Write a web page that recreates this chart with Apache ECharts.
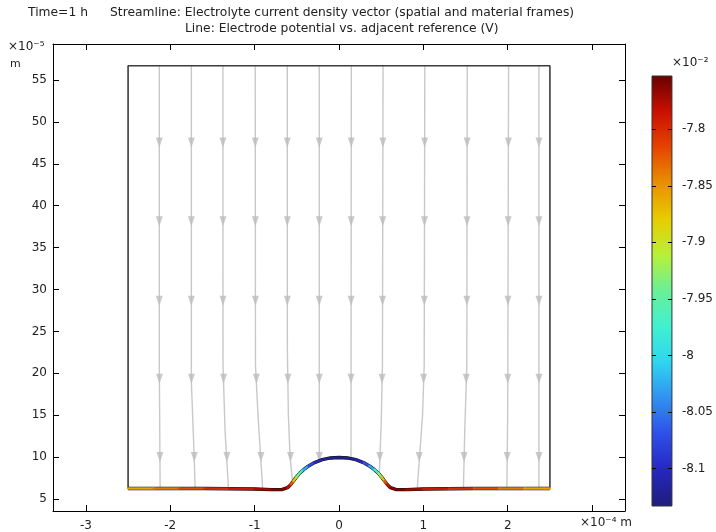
<!DOCTYPE html>
<html>
<head>
<meta charset="utf-8">
<script src="https://cdn.jsdelivr.net/npm/echarts@6/dist/echarts.min.js"></script>
<style>
  html, body { margin: 0; padding: 0; background: #fff; }
  #chart { width: 716px; height: 532px; }
</style>
</head>
<body>
<div id="chart"></div>
<script>
// axis ticks
var xTicks = [-3, -2, -1, 0, 1, 2, 3];
var xLabels = [-3, -2, -1, 0, 1, 2];
var yTicks = [5, 10, 15, 20, 25, 30, 35, 40, 45, 50, 55];
var cbTicks = [-8.1, -8.05, -8, -7.95, -7.9, -7.85, -7.8];

// domain box (x in 1e-4 m, y in 1e-5 m)
var boxX = [-2.5, -2.5, 2.5, 2.5];
var boxY = [6.25, 56.7, 56.7, 6.25];

// streamlines
var stream1 = [[-2.13, 56.7], [-2.13, 21], [-2.12, 6.25]];
var stream2 = [[-1.75, 56.7], [-1.75, 19], [-1.72, 11], [-1.705, 6.25]];
var stream3 = [[-1.376, 56.7], [-1.375, 21], [-1.35, 13], [-1.31, 6.25]];
var stream4 = [[-0.993, 56.7], [-0.99, 21], [-0.96, 15], [-0.905, 6.2]];
var stream5 = [[-0.613, 56.7], [-0.612, 23], [-0.6, 15], [-0.58, 10], [-0.55, 7.0]];
var stream6 = [[-0.234, 56.7], [-0.234, 9.45]];
var stream7 = [[0.146, 56.7], [0.142, 9.9]];
var stream8 = [[0.522, 56.7], [0.515, 21], [0.5, 14], [0.478, 7.97]];
var stream9 = [[1.017, 56.7], [1.01, 21], [0.99, 15], [0.928, 6.25]];
var stream10 = [[1.52, 56.7], [1.515, 21], [1.49, 13], [1.475, 6.25]];
var stream11 = [[2.01, 56.7], [2.0, 16], [1.99, 6.25]];
var stream12 = [[2.37, 56.7], [2.37, 6.25]];
var streams = [stream1, stream2, stream3, stream4, stream5, stream6,
               stream7, stream8, stream9, stream10, stream11, stream12];
// arrow tip heights
var arrowY = [47.0, 37.6, 28.1, 18.8, 9.45];

// electrode line: x, y, potential (1e-2 V)
var elecX = [-2.5, -2.2, -1.9, -1.6, -1.3, -1.0, -0.8, -0.68, -0.61, -0.57, -0.54, -0.51, -0.47, -0.42, -0.36, -0.29, -0.2, -0.1, 0,
             0.1, 0.2, 0.29, 0.36, 0.42, 0.47, 0.51, 0.54, 0.57, 0.61, 0.68, 0.8, 1.0, 1.3, 1.6, 1.9, 2.2, 2.5];
var elecY = [6.25, 6.25, 6.25, 6.25, 6.23, 6.2, 6.12, 6.12, 6.35, 6.75, 7.15, 7.55, 8.05, 8.5, 8.95, 9.35, 9.7, 9.9, 9.95,
             9.9, 9.7, 9.35, 8.95, 8.5, 8.05, 7.55, 7.15, 6.75, 6.35, 6.12, 6.12, 6.2, 6.23, 6.25, 6.25, 6.25, 6.25];
var elecV = [-7.868, -7.85, -7.83, -7.81, -7.795, -7.78, -7.765, -7.758, -7.765, -7.8, -7.85, -7.9, -7.95, -8.0, -8.05, -8.09, -8.115, -8.125, -8.13,
             -8.125, -8.115, -8.09, -8.05, -8.0, -7.95, -7.9, -7.85, -7.8, -7.765, -7.758, -7.765, -7.78, -7.795, -7.81, -7.83, -7.85, -7.868];

var vMin = -8.133, vMax = -7.753;
var rainbow = ['#1e1e78', '#2626c0', '#2e4ee8', '#3090f0', '#30d4f0', '#40f0d0', '#68f098',
               '#b8f038', '#e8cc00', '#e89000', '#e64400', '#c81000', '#680000'];

var font = 'DejaVu Sans';

// segments for the coloured electrode line
var segs = [];
for (var i = 0; i < elecX.length - 1; i++) {
    segs.push([elecX[i], elecY[i], elecX[i + 1], elecY[i + 1], (elecV[i] + elecV[i + 1]) / 2]);
}
var elecLine = [];
for (var i = 0; i < elecX.length; i++) {
    elecLine.push([elecX[i], elecY[i]]);
}
var box = [];
for (var i = 0; i < boxX.length; i++) {
    box.push([boxX[i], boxY[i]]);
}

// arrow markers placed on the streamlines
var arrows = [];
streams.forEach(function(s) {
    var last = s[s.length - 1][1];
    arrowY.forEach(function(ay) {
        if (last > ay + 0.1) return;
        for (var k = 0; k < s.length - 1; k++) {
            var a = s[k], b = s[k + 1];
            if (a[1] >= ay && b[1] <= ay) {
                var t = (a[1] - ay) / (a[1] - b[1]);
                arrows.push([a[0] + (b[0] - a[0]) * t, ay + 0.55]);
                break;
            }
        }
    });
});

var axisCommon = {
    type: 'value',
    axisLine: { show: true, onZero: false, lineStyle: { color: '#000', width: 1 } },
    axisTick: { show: true, inside: true, length: 6, lineStyle: { color: '#000' } },
    splitLine: { show: false }
};

function ax(extra) {
    return echarts.util.merge(echarts.util.clone(axisCommon), extra, true);
}

var series = [];
series.push({
    type: 'line', xAxisIndex: 0, yAxisIndex: 0, data: box, symbol: 'none', silent: true,
    lineStyle: { color: '#3c3c3c', width: 1.6 }, z: 3
});
streams.forEach(function(s) {
    series.push({
        type: 'line', xAxisIndex: 0, yAxisIndex: 0, data: s, symbol: 'none', silent: true,
        lineStyle: { color: '#c8c8c8', width: 1.4 }, z: 2
    });
});
series.push({
    type: 'scatter', xAxisIndex: 0, yAxisIndex: 0, data: arrows, silent: true,
    symbol: 'triangle', symbolRotate: 180, symbolSize: [7, 10],
    itemStyle: { color: '#bdbdbd' }, z: 2
});
series.push({
    type: 'line', xAxisIndex: 0, yAxisIndex: 0, data: elecLine, symbol: 'none', silent: true,
    lineStyle: { color: '#111', width: 3.4 }, z: 4
});
var elecIndex = series.length;
series.push({
    type: 'custom', xAxisIndex: 0, yAxisIndex: 0, data: segs, silent: true, z: 5,
    encode: { x: [0, 2], y: [1, 3] },
    renderItem: function(params, api) {
        var p1 = api.coord([api.value(0), api.value(1)]);
        var p2 = api.coord([api.value(2), api.value(3)]);
        return {
            type: 'line',
            shape: { x1: p1[0], y1: p1[1], x2: p2[0], y2: p2[1] },
            style: { stroke: api.visual('color'), lineWidth: 2.4, lineCap: 'round' }
        };
    }
});
// colour bar
var stops = rainbow.map(function(c, k) {
    return { offset: k / (rainbow.length - 1), color: c };
});
series.push({
    type: 'custom', xAxisIndex: 2, yAxisIndex: 2, data: [[0, vMin, 1, vMax]], silent: true, z: 1,
    renderItem: function(params, api) {
        var p1 = api.coord([api.value(0), api.value(1)]);
        var p2 = api.coord([api.value(2), api.value(3)]);
        return {
            type: 'rect',
            shape: { x: p1[0], y: p2[1], width: p2[0] - p1[0], height: p1[1] - p2[1] },
            style: { fill: new echarts.graphic.LinearGradient(0, 1, 0, 0, stops), stroke: '#333', lineWidth: 1 }
        };
    }
});

var labelStyle = { color: '#222', fontFamily: font, fontSize: 12 };

var option = {
    animation: false,
    backgroundColor: '#fff',
    grid: [
        { left: 53, top: 44, width: 572, height: 468 },
        { left: 652, top: 76, width: 20, height: 430 }
    ],
    xAxis: [
        ax({ gridIndex: 0, min: -3.39, max: 3.39, position: 'bottom',
             axisTick: { customValues: xTicks },
             axisLabel: echarts.util.extend({ customValues: xLabels, margin: 9 }, labelStyle) }),
        ax({ gridIndex: 0, min: -3.39, max: 3.39, position: 'top',
             axisTick: { customValues: xTicks }, axisLabel: { show: false } }),
        { gridIndex: 1, type: 'value', min: 0, max: 1, show: false }
    ],
    yAxis: [
        ax({ gridIndex: 0, min: 3.57, max: 59.29, position: 'left',
             axisTick: { customValues: yTicks },
             axisLabel: echarts.util.extend({ customValues: yTicks, margin: 6 }, labelStyle) }),
        ax({ gridIndex: 0, min: 3.57, max: 59.29, position: 'right',
             axisTick: { customValues: yTicks }, axisLabel: { show: false } }),
        ax({ gridIndex: 1, min: vMin, max: vMax, position: 'right', z: 5,
             axisLine: { show: false },
             axisTick: { customValues: cbTicks, length: 4 },
             axisLabel: echarts.util.extend({ customValues: cbTicks, margin: 10,
                 formatter: function(v) { return String(+v.toFixed(2)); } }, labelStyle) }),
        ax({ gridIndex: 1, min: vMin, max: vMax, position: 'left', z: 5,
             axisLine: { show: false },
             axisTick: { customValues: cbTicks, length: 4 }, axisLabel: { show: false } })
    ],
    visualMap: {
        type: 'continuous', show: false, seriesIndex: elecIndex, dimension: 4,
        min: vMin, max: vMax, inRange: { color: rainbow }
    },
    graphic: [
        { type: 'text', left: 28, top: 7, style: { text: 'Time=1 h', font: '12.3px ' + font, fill: '#222' } },
        { type: 'text', left: 110, top: 7, style: { text: 'Streamline: Electrolyte current density vector (spatial and material frames)', font: '12.3px ' + font, fill: '#222' } },
        { type: 'text', left: 185, top: 23, style: { text: 'Line: Electrode potential vs. adjacent reference (V)', font: '12.3px ' + font, fill: '#222' } },
        { type: 'text', left: 8, top: 41, style: { text: '×10⁻⁵', font: '12px ' + font, fill: '#222' } },
        { type: 'text', left: 10, top: 59, style: { text: 'm', font: '11px ' + font, fill: '#222' } },
        { type: 'text', left: 580, top: 517, style: { text: '×10⁻⁴ m', font: '12px ' + font, fill: '#222' } },
        { type: 'text', left: 672, top: 57, style: { text: '×10⁻²', font: '12px ' + font, fill: '#222' } }
    ],
    series: series
};

var chart = echarts.init(document.getElementById('chart'));
chart.setOption(option);
</script>
</body>
</html>
